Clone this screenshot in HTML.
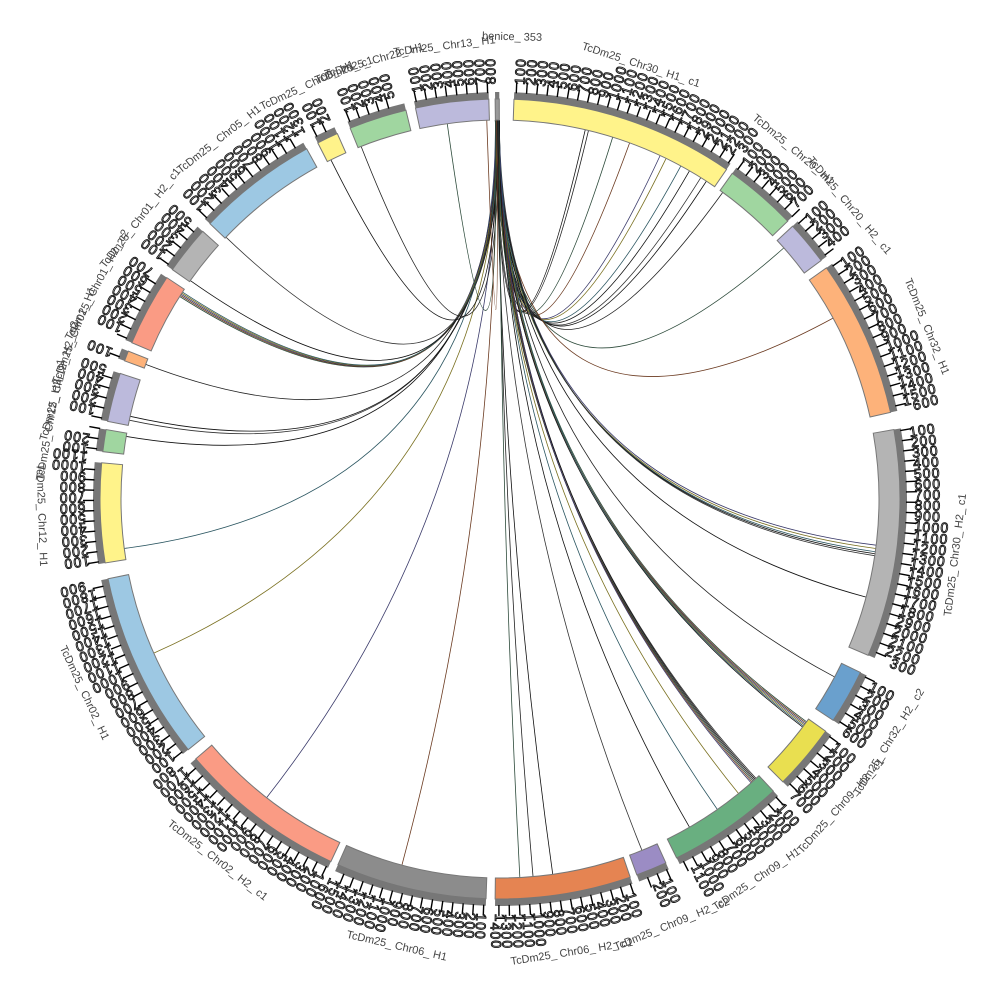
<!DOCTYPE html>
<html><head><meta charset="utf-8"><style>
html,body{margin:0;padding:0;background:#fff;width:1000px;height:1000px;overflow:hidden}
svg{display:block}
.num{font-family:"Liberation Sans",sans-serif;font-size:14px;fill:none;stroke:#111;stroke-width:0.9}
.r1{letter-spacing:2.85px}.r2{letter-spacing:3.08px}.r3{letter-spacing:3.3px}.r4{letter-spacing:3.5px}
.lab{font-family:"Liberation Sans",sans-serif;font-size:11px;fill:#444}
</style></head><body>
<svg id="s" width="1000" height="1000" viewBox="0 0 1000 1000">
<defs>
<path id="c1" d="M500,79 A420,420 0 0 1 500,919 A420,420 0 0 1 500,79"/>
<path id="c2" d="M500,70 A429,429 0 0 1 500,928 A429,429 0 0 1 500,70"/>
<path id="c3" d="M500,61 A438,438 0 0 1 500,937 A438,438 0 0 1 500,61"/>
<path id="c4" d="M500,52 A447,447 0 0 1 500,946 A447,447 0 0 1 500,52"/>
</defs>
<g id="links"></g>
<g id="segs"></g>
<g id="nums">
<text class="num r1" rotate="-90"><textPath href="#c1" startOffset="0.74%">12345678911111111112222</textPath></text>
<text class="num r2" rotate="-90"><textPath href="#c2" startOffset="0.74%">00000000001234567890123</textPath></text>
<text class="num r3" rotate="-90"><textPath href="#c3" startOffset="0.74%">00000000000000000000000</textPath></text>
<text class="num r4" rotate="-90"><textPath href="#c4" startOffset="4.35%">00000000000000</textPath></text>

<text class="num r1" rotate="-90"><textPath href="#c1" startOffset="10.04%">1234567</textPath></text>
<text class="num r2" rotate="-90"><textPath href="#c2" startOffset="10.04%">0000000</textPath></text>
<text class="num r3" rotate="-90"><textPath href="#c3" startOffset="10.04%">0000000</textPath></text>

<text class="num r1" rotate="-90"><textPath href="#c1" startOffset="13.24%">1234</textPath></text>
<text class="num r2" rotate="-90"><textPath href="#c2" startOffset="13.24%">0000</textPath></text>
<text class="num r3" rotate="-90"><textPath href="#c3" startOffset="13.24%">0000</textPath></text>

<text class="num r1" rotate="-90"><textPath href="#c1" startOffset="15.38%">1234567891111111</textPath></text>
<text class="num r2" rotate="-90"><textPath href="#c2" startOffset="15.38%">0000000000123456</textPath></text>
<text class="num r3" rotate="-90"><textPath href="#c3" startOffset="15.38%">0000000000000000</textPath></text>
<text class="num r4" rotate="-90"><textPath href="#c4" startOffset="18.99%">0000000</textPath></text>

<text class="num r1" rotate="-90"><textPath href="#c1" startOffset="22.40%">12345678911111111112222</textPath></text>
<text class="num r2" rotate="-90"><textPath href="#c2" startOffset="22.40%">00000000001234567890123</textPath></text>
<text class="num r3" rotate="-90"><textPath href="#c3" startOffset="22.40%">00000000000000000000000</textPath></text>
<text class="num r4" rotate="-90"><textPath href="#c4" startOffset="26.0%">00000000000000</textPath></text>

<text class="num r1" rotate="-90"><textPath href="#c1" startOffset="32.4%">123456</textPath></text>
<text class="num r2" rotate="-90"><textPath href="#c2" startOffset="32.4%">000000</textPath></text>
<text class="num r3" rotate="-90"><textPath href="#c3" startOffset="32.4%">000000</textPath></text>

<text class="num r1" rotate="-90"><textPath href="#c1" startOffset="35.1%">1234567</textPath></text>
<text class="num r2" rotate="-90"><textPath href="#c2" startOffset="35.1%">0000000</textPath></text>
<text class="num r3" rotate="-90"><textPath href="#c3" startOffset="35.1%">0000000</textPath></text>

<text class="num r1" rotate="-90"><textPath href="#c1" startOffset="38.2%">12345678911</textPath></text>
<text class="num r2" rotate="-90"><textPath href="#c2" startOffset="38.2%">00000000001</textPath></text>
<text class="num r3" rotate="-90"><textPath href="#c3" startOffset="38.2%">00000000000</textPath></text>
<text class="num r4" rotate="-90"><textPath href="#c4" startOffset="41.8%">00</textPath></text>

<text class="num r1" rotate="-90"><textPath href="#c1" startOffset="43.4%">12</textPath></text>
<text class="num r2" rotate="-90"><textPath href="#c2" startOffset="43.4%">00</textPath></text>
<text class="num r3" rotate="-90"><textPath href="#c3" startOffset="43.4%">00</textPath></text>

<text class="num r1" rotate="-90"><textPath href="#c1" startOffset="44.9%">12345678911111</textPath></text>
<text class="num r2" rotate="-90"><textPath href="#c2" startOffset="44.9%">00000000001234</textPath></text>
<text class="num r3" rotate="-90"><textPath href="#c3" startOffset="44.9%">00000000000000</textPath></text>
<text class="num r4" rotate="-90"><textPath href="#c4" startOffset="48.5%">00000</textPath></text>

<text class="num r1" rotate="-90"><textPath href="#c1" startOffset="50.7%">1234567891111111</textPath></text>
<text class="num r2" rotate="-90"><textPath href="#c2" startOffset="50.7%">0000000000123456</textPath></text>
<text class="num r3" rotate="-90"><textPath href="#c3" startOffset="50.7%">0000000000000000</textPath></text>
<text class="num r4" rotate="-90"><textPath href="#c4" startOffset="54.3%">0000000</textPath></text>

<text class="num r1" rotate="-90"><textPath href="#c1" startOffset="57.1%">123456789111111111</textPath></text>
<text class="num r2" rotate="-90"><textPath href="#c2" startOffset="57.1%">000000000012345678</textPath></text>
<text class="num r3" rotate="-90"><textPath href="#c3" startOffset="57.1%">000000000000000000</textPath></text>
<text class="num r4" rotate="-90"><textPath href="#c4" startOffset="60.7%">000000000</textPath></text>

<text class="num r1" rotate="-90"><textPath href="#c1" startOffset="64.4%">1234567891111111111</textPath></text>
<text class="num r2" rotate="-90"><textPath href="#c2" startOffset="64.4%">0000000000123456789</textPath></text>
<text class="num r3" rotate="-90"><textPath href="#c3" startOffset="64.4%">0000000000000000000</textPath></text>
<text class="num r4" rotate="-90"><textPath href="#c4" startOffset="68.0%">0000000000</textPath></text>

<text class="num r1" rotate="-90"><textPath href="#c1" startOffset="72.6%">12345678911</textPath></text>
<text class="num r2" rotate="-90"><textPath href="#c2" startOffset="72.6%">00000000001</textPath></text>
<text class="num r3" rotate="-90"><textPath href="#c3" startOffset="72.6%">00000000000</textPath></text>
<text class="num r4" rotate="-90"><textPath href="#c4" startOffset="76.2%">00</textPath></text>

<text class="num r1" rotate="-90"><textPath href="#c1" startOffset="76.9%">12</textPath></text>
<text class="num r2" rotate="-90"><textPath href="#c2" startOffset="76.9%">00</textPath></text>
<text class="num r3" rotate="-90"><textPath href="#c3" startOffset="76.9%">00</textPath></text>

<text class="num r1" rotate="-90"><textPath href="#c1" startOffset="78.4%">12345</textPath></text>
<text class="num r2" rotate="-90"><textPath href="#c2" startOffset="78.4%">00000</textPath></text>
<text class="num r3" rotate="-90"><textPath href="#c3" startOffset="78.4%">00000</textPath></text>

<text class="num r1" rotate="-90"><textPath href="#c1" startOffset="80.7%">1</textPath></text>
<text class="num r2" rotate="-90"><textPath href="#c2" startOffset="80.7%">0</textPath></text>
<text class="num r3" rotate="-90"><textPath href="#c3" startOffset="80.7%">0</textPath></text>

<text class="num r1" rotate="-90"><textPath href="#c1" startOffset="81.7%">1234567</textPath></text>
<text class="num r2" rotate="-90"><textPath href="#c2" startOffset="81.7%">0000000</textPath></text>
<text class="num r3" rotate="-90"><textPath href="#c3" startOffset="81.7%">0000000</textPath></text>

<text class="num r1" rotate="-90"><textPath href="#c1" startOffset="84.9%">12345</textPath></text>
<text class="num r2" rotate="-90"><textPath href="#c2" startOffset="84.9%">00000</textPath></text>
<text class="num r3" rotate="-90"><textPath href="#c3" startOffset="84.9%">00000</textPath></text>

<text class="num r1" rotate="-90"><textPath href="#c1" startOffset="87.3%">1234567891111</textPath></text>
<text class="num r2" rotate="-90"><textPath href="#c2" startOffset="87.3%">0000000000123</textPath></text>
<text class="num r3" rotate="-90"><textPath href="#c3" startOffset="87.3%">0000000000000</textPath></text>
<text class="num r4" rotate="-90"><textPath href="#c4" startOffset="90.9%">0000</textPath></text>

<text class="num r1" rotate="-90"><textPath href="#c1" startOffset="92.7%">12</textPath></text>
<text class="num r2" rotate="-90"><textPath href="#c2" startOffset="92.7%">00</textPath></text>
<text class="num r3" rotate="-90"><textPath href="#c3" startOffset="92.7%">00</textPath></text>

<text class="num r1" rotate="-90"><textPath href="#c1" startOffset="94.1%">12345</textPath></text>
<text class="num r2" rotate="-90"><textPath href="#c2" startOffset="94.1%">00000</textPath></text>
<text class="num r3" rotate="-90"><textPath href="#c3" startOffset="94.1%">00000</textPath></text>

<text class="num r1" rotate="-90"><textPath href="#c1" startOffset="96.8%">12345678</textPath></text>
<text class="num r2" rotate="-90"><textPath href="#c2" startOffset="96.8%">00000000</textPath></text>
<text class="num r3" rotate="-90"><textPath href="#c3" startOffset="96.8%">00000000</textPath></text>
</g>
<g id="labels">
<text class="lab" text-anchor="middle" x="500" y="46" transform="rotate(18,500,499)">TcDm25_ Chr30_ H1_ c1</text>
<text class="lab" text-anchor="middle" x="500" y="46" transform="rotate(40,500,499)">TcDm25_ Chr20_ H1</text>
<text class="lab" text-anchor="middle" x="500" y="46" transform="rotate(50,500,499)">TcDm25_ Chr20_ H2_ c1</text>
<text class="lab" text-anchor="middle" x="500" y="42" transform="rotate(68,500,499)">TcDm25_ Chr32_ H1</text>
<text class="lab" text-anchor="middle" x="500" y="961" transform="rotate(-83,500,499)">TcDm25_ Chr30_ H2_ c1</text>
<text class="lab" text-anchor="middle" x="500" y="961" transform="rotate(-58,500,499)">TcDm25_ Chr32_ H2_ c2</text>
<text class="lab" text-anchor="middle" x="500" y="961" transform="rotate(-48,500,499)">TcDm25_ Chr09_ H2_ c1</text>
<text class="lab" text-anchor="middle" x="500" y="961" transform="rotate(-34,500,499)">TcDm25_ Chr09_ H1</text>
<text class="lab" text-anchor="middle" x="500" y="961" transform="rotate(-22,500,499)">TcDm25_ Chr09_ H2_ c2</text>
<text class="lab" text-anchor="middle" x="500" y="961" transform="rotate(-9,500,499)">TcDm25_ Chr06_ H2_ c1</text>
<text class="lab" text-anchor="middle" x="500" y="961" transform="rotate(13,500,499)">TcDm25_ Chr06_ H1</text>
<text class="lab" text-anchor="middle" x="500" y="961" transform="rotate(38,500,499)">TcDm25_ Chr02_ H2_ c1</text>
<text class="lab" text-anchor="middle" x="500" y="961" transform="rotate(65,500,499)">TcDm25_ Chr02_ H1</text>
<text class="lab" text-anchor="middle" x="500" y="961" transform="rotate(88,500,499)">TcDm25_ Chr12_ H1</text>
<text class="lab" text-anchor="middle" x="500" y="46" transform="rotate(-80,500,499)">TcDm25_ Chr12_ H2_ c1</text>
<text class="lab" text-anchor="middle" x="500" y="46" transform="rotate(-75,500,499)">TcDm25_ Chr12_ H2_ c2</text>
<text class="lab" text-anchor="middle" x="500" y="46" transform="rotate(-69,500,499)">TcDm25_ Chr01_ H1</text>
<text class="lab" text-anchor="middle" x="500" y="46" transform="rotate(-62,500,499)">TcDm25_ Chr01_ H2_ c2</text>
<text class="lab" text-anchor="middle" x="500" y="46" transform="rotate(-52,500,499)">TcDm25_ Chr01_ H2_ c1</text>
<text class="lab" text-anchor="middle" x="500" y="46" transform="rotate(-38,500,499)">TcDm25_ Chr05_ H1</text>
<text class="lab" text-anchor="middle" x="500" y="46" transform="rotate(-25,500,499)">TcDm25_ Chr08_ H1</text>
<text class="lab" text-anchor="middle" x="500" y="46" transform="rotate(-20,500,499)">TcDm25_ c1</text>
<text class="lab" text-anchor="middle" x="500" y="46" transform="rotate(-16,500,499)">TcDm25_ Chr22_ H1</text>
<text class="lab" text-anchor="middle" x="500" y="46" transform="rotate(-7,500,499)">TcDm25_ Chr13_ H1</text>
<text class="lab" text-anchor="middle" x="500" y="40" transform="rotate(1.5,500,499)">benice_ 353</text>
</g>
</svg>
<script>
var cx=500,cy=499,NS="http://www.w3.org/2000/svg";
function pt(a,r){var t=a*Math.PI/180;return [cx+r*Math.sin(t),cy-r*Math.cos(t)];}
function P(p){return p[0].toFixed(2)+","+p[1].toFixed(2);}
function sector(a0,a1,r0,r1){var l=(a1-a0)>180?1:0;
return "M"+P(pt(a0,r0))+"L"+P(pt(a0,r1))+"A"+r1+","+r1+" 0 "+l+" 1 "+P(pt(a1,r1))+"L"+P(pt(a1,r0))+"A"+r0+","+r0+" 0 "+l+" 0 "+P(pt(a0,r0))+"Z";}
function el(n,at,par){var e=document.createElementNS(NS,n);for(var k in at)e.setAttribute(k,at[k]);par.appendChild(e);return e;}
var segs=[[2,34.5,"#fff38a",23],[35.5,46,"#a0d6a0",8],[47,53.4,"#bcbadc",5],[54.7,77.5,"#fdb27a",16],
[80,113,"#b4b4b4",23],[115.7,123.6,"#6aa0cd",6],[125.5,135,"#e9df50",7],[136.9,153.8,"#69af80",12],
[155.5,160,"#9b8cc4",3],[161,180.7,"#e58452",14],[182,203.9,"#8c8c8c",16],[205,229.5,"#fa9b84",18],
[231.2,258.5,"#9dc8e3",19],[260.8,275.2,"#fff38a",10],[276.8,280,"#a0d6a0",3],[281.2,288.3,"#bcbadc",5],
[290.2,291.7,"#fdb27a",1],[293,303.6,"#fa9b84",7],[305,312,"#b4b4b4",5],[313.5,331.1,"#9dc8e3",13],
[332.9,336,"#fff38a",2],[338,346.4,"#a0d6a0",5],[347.8,358.4,"#bcbadc",8],[359.3,359.9,"#999",0]];
var g=document.getElementById("segs");
segs.forEach(function(s){
 el("path",{d:sector(s[0],s[1],379,400),fill:s[2],stroke:"#777","stroke-width":1},g);
 el("path",{d:sector(s[0],s[1],400,407),fill:"#777",stroke:"none"},g);
 for(var i=0;i<s[3];i++){var a=s[0]+0.3+i*1.45;if(a>s[1])break;
  var p1=pt(a,406),p2=pt(a,417);el("line",{x1:p1[0],y1:p1[1],x2:p2[0],y2:p2[1],stroke:"#000","stroke-width":1.4},g);}
});
var L=document.getElementById("links");
var cols=["#111","#222","#2c4a3a","#6b3a20","#3a3a6a","#7a7020","#2a5560","#111","#333"];
var T=[13,13.5,17.3,20,25,26,28.5,30,32,33,36,48.5,61.5,97,97.5,98,98.3,98.6,105,118,
126,126.2,126.4,126.6,126.8,127,137.5,137.7,137.9,138.1,138.3,138.5,141,145,150,158,172,175,177,195,218,246,262.5,
279.5,282,282.6,290.8,302.3,302.5,302.7,302.9,303.1,305.2,313.7,333.5,338.5,352,358];
T.forEach(function(t,i){var s=359.3+((i*37)%7)*0.1;
 var a=pt(s,379),b=pt(t,379);
 el("path",{d:"M"+P(a)+"Q"+cx+","+cy+" "+P(b),fill:"none",stroke:cols[i%cols.length],"stroke-width":0.8},L);});
</script>
</body></html>
